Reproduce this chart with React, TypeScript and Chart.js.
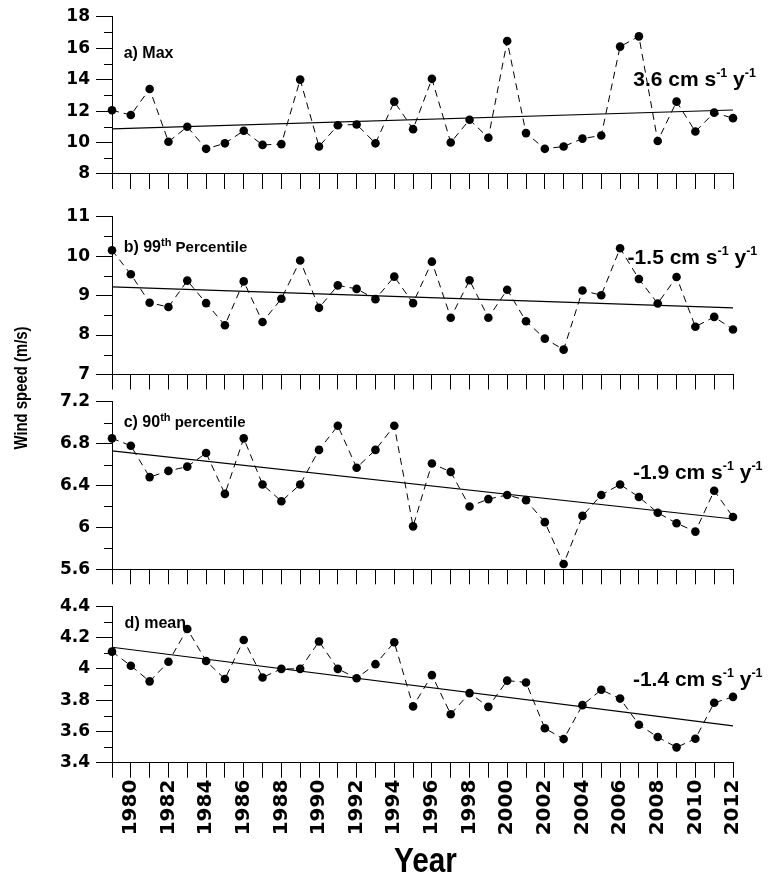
import React, { useEffect, useRef } from "react";
import { Chart, registerables } from "chart.js";

Chart.register(...registerables);

const W = 769;
const H = 890;

// ---- data ----
const years = [
  1979, 1980, 1981, 1982, 1983, 1984, 1985, 1986, 1987, 1988, 1989, 1990,
  1991, 1992, 1993, 1994, 1995, 1996, 1997, 1998, 1999, 2000, 2001, 2002,
  2003, 2004, 2005, 2006, 2007, 2008, 2009, 2010, 2011, 2012,
];

const maxSpeed = [
  12.05, 11.75, 13.4, 10.05, 11.0, 9.6, 9.95, 10.75, 9.85, 9.9, 14.0, 9.75,
  11.1, 11.15, 9.95, 12.6, 10.85, 14.05, 10.0, 11.45, 10.3, 16.45, 10.6, 9.6,
  9.75, 10.25, 10.45, 16.1, 16.75, 10.1, 12.6, 10.7, 11.9, 11.55,
];

const p99Speed = [
  10.15, 9.54, 8.82, 8.71, 9.38, 8.81, 8.25, 9.36, 8.33, 8.92, 9.89, 8.69,
  9.26, 9.17, 8.91, 9.48, 8.81, 9.86, 8.44, 9.39, 8.44, 9.15, 8.35, 7.91,
  7.63, 9.13, 9.01, 10.2, 9.42, 8.8, 9.47, 8.21, 8.46, 8.14,
];

const p90Speed = [
  6.85, 6.78, 6.48, 6.54, 6.58, 6.71, 6.32, 6.85, 6.41, 6.25, 6.41, 6.74,
  6.97, 6.57, 6.74, 6.97, 6.01, 6.61, 6.53, 6.2, 6.27, 6.31, 6.26, 6.05,
  5.65, 6.11, 6.31, 6.41, 6.29, 6.14, 6.04, 5.96, 6.35, 6.1,
];

const meanSpeed = [
  4.11, 4.02, 3.92, 4.045, 4.255, 4.05, 3.935, 4.185, 3.945, 4.0, 4.0, 4.175,
  4.0, 3.94, 4.03, 4.17, 3.76, 3.96, 3.71, 3.845, 3.757, 3.925, 3.913, 3.62,
  3.551, 3.768, 3.866, 3.81, 3.643, 3.564, 3.498, 3.553, 3.783, 3.821,
];

// linear trend end points (first year, last year)
const maxTrend = [10.87, 12.07];
const p99Trend = [9.22, 8.69];
const p90Trend = [6.73, 6.08];
const meanTrend = [4.138, 3.636];

const trendLabels = ["3.6", "-1.5", "-1.9", "-1.4"];

const TEXT_FONT = '"Liberation Sans", Arial, Helvetica, sans-serif';
const TICK_FONT = '"DejaVu Sans", Verdana, sans-serif';

type Part = { t: string; s: number; up?: number };

function trendParts(v: string): Part[] {
  return [
    { t: v + " cm s", s: 21 },
    { t: "-1", s: 12.5, up: 8.5 },
    { t: " y", s: 21 },
    { t: "-1", s: 12.5, up: 8.5 },
  ];
}

function drawParts(ctx: CanvasRenderingContext2D, parts: Part[], x: number, baseline: number) {
  let cx = x;
  for (let i = 0; i < parts.length; i++) {
    const p = parts[i];
    ctx.font = `bold ${p.s}px ${TEXT_FONT}`;
    ctx.fillText(p.t, cx, baseline - (p.up || 0));
    cx += ctx.measureText(p.t).width;
  }
}

const decorPlugin = {
  id: "decor",
  afterDraw(chart: any, _args: any, o: any) {
    const ctx: CanvasRenderingContext2D = chart.ctx;
    const xs = chart.scales.x;
    const ys = chart.scales.y;
    const left = chart.chartArea.left;
    ctx.save();
    // minor y ticks
    ctx.strokeStyle = "#000";
    ctx.lineWidth = 1;
    for (let v = o.min + o.minorStep; v < o.max - 1e-9; v += o.majorStep) {
      const py = Math.round(ys.getPixelForValue(v)) + 0.5;
      ctx.beginPath();
      ctx.moveTo(left - 8, py);
      ctx.lineTo(left, py);
      ctx.stroke();
    }
    ctx.fillStyle = "#000";
    ctx.textAlign = "left";
    ctx.textBaseline = "alphabetic";
    const label: Part[] = o.label;
    drawParts(
      ctx,
      label,
      xs.getPixelForValue(o.labelAt[0]),
      ys.getPixelForValue(o.labelAt[1]) + label[0].s * 0.36
    );
    const tp: Part[] = o.trendText;
    drawParts(
      ctx,
      tp,
      xs.getPixelForValue(o.trendAt[0]),
      ys.getPixelForValue(o.trendAt[1]) + tp[0].s * 0.36
    );
    if (o.axisTitles) {
      // y title
      ctx.save();
      ctx.translate(22.5, 388);
      ctx.rotate(-Math.PI / 2);
      ctx.scale(0.85, 1);
      ctx.textAlign = "center";
      ctx.textBaseline = "middle";
      ctx.font = `bold 17.5px ${TEXT_FONT}`;
      ctx.fillText("Wind speed (m/s)", 0, 0);
      ctx.restore();
      // x title
      ctx.save();
      ctx.translate((chart.chartArea.left + chart.chartArea.right) / 2 + 3, 862);
      ctx.scale(0.85, 1);
      ctx.textAlign = "center";
      ctx.textBaseline = "middle";
      ctx.font = `bold 35px ${TEXT_FONT}`;
      ctx.fillText("Year", 0, 0);
      ctx.restore();
    }
    ctx.restore();
  },
};

type PanelCfg = {
  values: number[];
  trend: number[];
  min: number;
  max: number;
  step: number;
  minorStep: number;
  top: number;
  bottom: number;
  bottomAxis: boolean;
  label: Part[];
  labelAt: number[];
  trendText: Part[];
  trendAt: number[];
};

const panels: PanelCfg[] = [
  {
    values: maxSpeed, trend: maxTrend, min: 8, max: 18, step: 2, minorStep: 1,
    top: 16.7, bottom: 174, bottomAxis: false,
    label: [{ t: "a) Max", s: 16 }], labelAt: [1979.62, 15.77],
    trendText: trendParts(trendLabels[0]), trendAt: [2006.7, 14.1],
  },
  {
    values: p99Speed, trend: p99Trend, min: 7, max: 11, step: 1, minorStep: 0.5,
    top: 216.7, bottom: 374.5, bottomAxis: false,
    label: [{ t: "b) 99", s: 16 }, { t: "th", s: 11, up: 6 }, { t: " Percentile", s: 15 }],
    labelAt: [1979.62, 10.24],
    trendText: trendParts(trendLabels[1]), trendAt: [2006.4, 10.0],
  },
  {
    values: p90Speed, trend: p90Trend, min: 5.6, max: 7.2, step: 0.4, minorStep: 0.2,
    top: 401.7, bottom: 569.3, bottomAxis: false,
    label: [{ t: "c) 90", s: 16 }, { t: "th", s: 11, up: 6 }, { t: " percentile", s: 15 }],
    labelAt: [1979.62, 7.01],
    trendText: trendParts(trendLabels[2]), trendAt: [2006.68, 6.537],
  },
  {
    values: meanSpeed, trend: meanTrend, min: 3.4, max: 4.4, step: 0.2, minorStep: 0.1,
    top: 606.3, bottom: 762.7, bottomAxis: true,
    label: [{ t: "d) mean", s: 16 }], labelAt: [1979.67, 4.3],
    trendText: trendParts(trendLabels[3]), trendAt: [2006.68, 3.94],
  },
];

function Panel({ cfg }: { cfg: PanelCfg }) {
  const ref = useRef<HTMLCanvasElement | null>(null);
  useEffect(() => {
    if (!ref.current) return;
    const xHeight = cfg.bottomAxis ? H - cfg.bottom : 16;
    const padBottom = H - cfg.bottom - xHeight;
    const first = years[0];
    const last = years[years.length - 1];
    const chart = new Chart(ref.current, {
      type: "line",
      data: {
        datasets: [
          {
            data: years.map((x, i) => ({ x, y: cfg.values[i] })),
            borderColor: "#000",
            borderWidth: 1,
            borderDash: [7, 5],
            pointRadius: 4.3,
            pointBackgroundColor: "#000",
            pointBorderWidth: 0,
            tension: 0,
            clip: false as any,
          },
          {
            data: [
              { x: first, y: cfg.trend[0] },
              { x: last, y: cfg.trend[1] },
            ],
            borderColor: "#000",
            borderWidth: 1.2,
            pointRadius: 0,
            tension: 0,
            clip: false as any,
          },
        ],
      },
      options: {
        responsive: false,
        animation: false,
        devicePixelRatio: 1,
        events: [],
        layout: { padding: { top: cfg.top, left: 0, right: W - 733, bottom: padBottom } },
        plugins: {
          legend: { display: false },
          tooltip: { enabled: false },
          title: { display: false },
          decor: {
            min: cfg.min,
            max: cfg.max,
            majorStep: cfg.step,
            minorStep: cfg.minorStep,
            label: cfg.label,
            labelAt: cfg.labelAt,
            trendText: cfg.trendText,
            trendAt: cfg.trendAt,
            axisTitles: cfg.bottomAxis,
          },
        } as any,
        scales: {
          x: {
            type: "linear",
            min: first,
            max: last,
            afterFit: (s: any) => {
              s.height = xHeight;
            },
            ticks: {
              display: cfg.bottomAxis,
              stepSize: 1,
              autoSkip: false,
              minRotation: 90,
              maxRotation: 90,
              padding: 2,
              color: "#000",
              font: { family: TICK_FONT, weight: "bold", size: 20 },
              callback: (v: any) => (Number(v) % 2 === 0 ? String(v) : ""),
            },
            grid: { drawOnChartArea: false, tickLength: 15, color: "#000", lineWidth: 1 },
            border: { color: "#000", width: 1 },
          },
          y: {
            type: "linear",
            min: cfg.min,
            max: cfg.max,
            afterFit: (s: any) => {
              s.width = 112;
            },
            ticks: {
              stepSize: cfg.step,
              padding: 6,
              color: "#000",
              font: { family: TICK_FONT, weight: "bold", size: 17 },
              callback: (v: any) => String(Math.round(Number(v) * 10) / 10),
            },
            grid: { drawOnChartArea: false, tickLength: 16, color: "#000", lineWidth: 1 },
            border: { color: "#000", width: 1 },
          },
        },
      } as any,
      plugins: [decorPlugin as any],
    });
    return () => chart.destroy();
  }, [cfg]);
  return (
    <canvas
      ref={ref}
      width={W}
      height={H}
      style={{ position: "absolute", left: 0, top: 0, width: W, height: H }}
    />
  );
}

export default function App() {
  return (
    <div style={{ position: "absolute", left: 0, top: 0, width: W, height: H, background: "#fff" }}>
      {panels.map((p, i) => (
        <Panel key={i} cfg={p} />
      ))}
    </div>
  );
}
